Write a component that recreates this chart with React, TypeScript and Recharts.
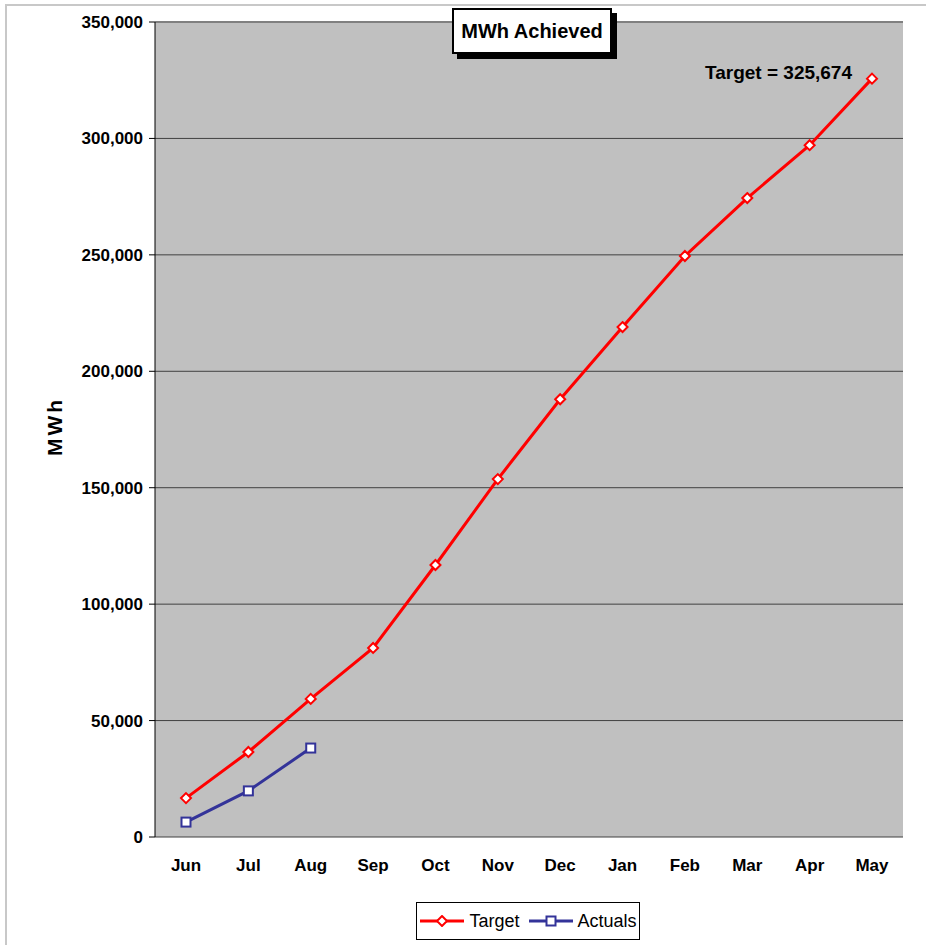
import React from "react";
import {
  CartesianGrid,
  Line,
  LineChart,
  ReferenceLine,
  XAxis,
  YAxis
} from "recharts";

const months = ["Jun", "Jul", "Aug", "Sep", "Oct", "Nov", "Dec", "Jan", "Feb", "Mar", "Apr", "May"];
const targetMwh = [16700, 36500, 59300, 81200, 116800, 153700, 188000, 219000, 249500, 274400, 297100, 325674];
const actualMwh = [6400, 19800, 38200];
const yTicks = [0, 50000, 100000, 150000, 200000, 250000, 300000, 350000];
const edgeTicks = [0, 1, 2, 3, 4, 5, 6, 7, 8, 9, 10, 11, 12];

const data = months.map((month, i) => ({
  month,
  target: targetMwh[i],
  actuals: i < actualMwh.length ? actualMwh[i] : null
}));

const FONT = "'Liberation Sans', Arial, sans-serif";
const RED = "#ff0000";
const NAVY = "#333399";

function Diamond(props: any) {
  const { cx, cy, index } = props;
  if (cx == null || cy == null) return <g key={`d${index}`} />;
  const r = 5;
  return (
    <path
      key={`d${index}`}
      d={`M${cx},${cy - r} L${cx + r},${cy} L${cx},${cy + r} L${cx - r},${cy} Z`}
      fill="#fff"
      stroke={RED}
      strokeWidth={2}
    />
  );
}

function Square(props: any) {
  const { cx, cy, index, value } = props;
  if (cx == null || cy == null || value == null) return <g key={`s${index}`} />;
  return (
    <rect
      key={`s${index}`}
      x={cx - 4.5}
      y={cy - 4.5}
      width={9}
      height={9}
      fill="#fff"
      stroke={NAVY}
      strokeWidth={2}
    />
  );
}

function TargetLabel(props: any) {
  const { x, y, index, value } = props;
  if (index !== targetMwh.length - 1) return null;
  return (
    <text x={x - 20} y={y} textAnchor="end" fontFamily={FONT} fontWeight="bold" fontSize={19} fill="#000">
      {`Target = ${Number(value).toLocaleString("en-US")}`}
    </text>
  );
}

export default function App() {
  return (
    <div style={{ position: "absolute", left: 0, top: 0, width: 926, height: 945, background: "#fff" }}>
      <div
        style={{
          position: "absolute",
          left: 5,
          top: 4,
          width: 921,
          height: 941,
          borderTop: "2px solid #c8c8c8",
          borderLeft: "2px solid #c8c8c8"
        }}
      />
      <LineChart width={926} height={945} data={data} margin={{ top: 22, right: 23, left: 0, bottom: 58 }}>
        <CartesianGrid vertical={false} stroke="#404040" fill="#c0c0c0" fillOpacity={1} />
        <XAxis
          xAxisId="edges"
          type="number"
          domain={[0, 12]}
          ticks={edgeTicks}
          height={0}
          tickSize={6}
          stroke="#000"
          tickFormatter={() => ""}
        />
        <XAxis
          dataKey="month"
          height={50}
          padding={{ left: 31, right: 31 }}
          axisLine={false}
          tickLine={false}
          tickSize={0}
          tickMargin={22}
          tick={{ fontFamily: FONT, fontWeight: "bold", fontSize: 17, fill: "#000" }}
        />
        <YAxis
          width={155}
          domain={[0, 350000]}
          ticks={yTicks}
          tickSize={6}
          tickMargin={6}
          stroke="#000"
          tick={{ fontFamily: FONT, fontWeight: "bold", fontSize: 17, fill: "#000" }}
          tickFormatter={(v) => Number(v).toLocaleString("en-US")}
          label={({ viewBox }: any) => (
            <text
              x={62}
              y={viewBox.y + viewBox.height / 2 - 3}
              transform={`rotate(-90, 62, ${viewBox.y + viewBox.height / 2 - 3})`}
              textAnchor="middle"
              fontFamily={FONT}
              fontWeight="bold"
              fontSize={21}
              letterSpacing={3}
              fill="#000"
            >
              MWh
            </text>
          )}
        />
        <ReferenceLine y={350000} stroke="#808080" strokeWidth={2} />
        <ReferenceLine xAxisId="edges" x={12} stroke="#808080" strokeWidth={2} />
        <Line
          dataKey="target"
          stroke={RED}
          strokeWidth={3}
          dot={Diamond}
          activeDot={false}
          label={TargetLabel}
          isAnimationActive={false}
        />
        <Line
          dataKey="actuals"
          stroke={NAVY}
          strokeWidth={3}
          dot={Square}
          activeDot={false}
          connectNulls={false}
          isAnimationActive={false}
        />
      </LineChart>
      <div
        style={{
          position: "absolute",
          left: 452,
          top: 8,
          width: 156,
          height: 42,
          border: "2px solid #000",
          background: "#fff",
          boxShadow: "5px 5px 0 #000",
          display: "flex",
          alignItems: "center",
          justifyContent: "center",
          fontFamily: FONT,
          fontWeight: "bold",
          fontSize: 20
        }}
      >
        MWh Achieved
      </div>
      <div
        style={{
          position: "absolute",
          left: 416,
          top: 902,
          width: 222,
          height: 36,
          border: "1px solid #000",
          background: "#fff",
          display: "flex",
          alignItems: "center",
          justifyContent: "center",
          gap: 4,
          fontFamily: FONT,
          fontSize: 18
        }}
      >
        <svg width={46} height={12}>
          <line x1={1} y1={6} x2={45} y2={6} stroke={RED} strokeWidth={3} />
          <path d="M23,1 L28,6 L23,11 L18,6 Z" fill="#fff" stroke={RED} strokeWidth={2} />
        </svg>
        <span>Target</span>
        <svg width={46} height={12} style={{ marginLeft: 4 }}>
          <line x1={1} y1={6} x2={45} y2={6} stroke={NAVY} strokeWidth={3} />
          <rect x={18.5} y={1.5} width={9} height={9} fill="#fff" stroke={NAVY} strokeWidth={2} />
        </svg>
        <span>Actuals</span>
      </div>
    </div>
  );
}
